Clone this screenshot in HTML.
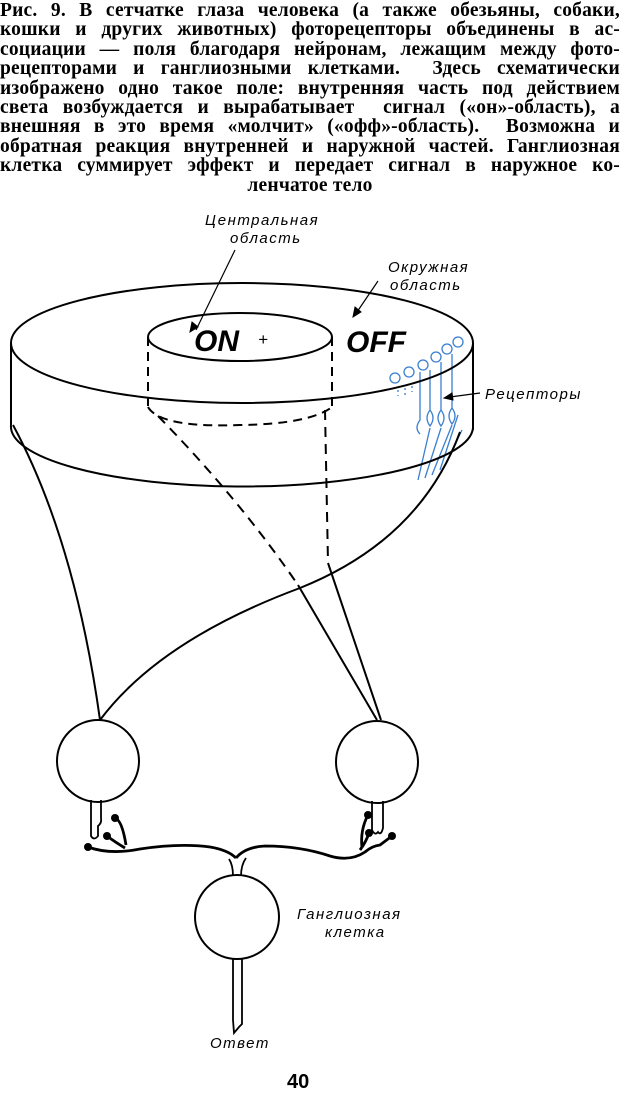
<!DOCTYPE html>
<html><head><meta charset="utf-8"><style>
html,body{margin:0;padding:0;background:#fff;}
body{width:620px;height:1095px;position:relative;overflow:hidden;}
.cap{position:absolute;left:0;top:1px;width:620px;font-family:"Liberation Serif","Noto Serif CJK SC",serif;font-weight:bold;font-size:19.5px;line-height:19.4px;color:#000;letter-spacing:0.2px;}
.cap div{text-align:justify;text-align-last:justify;white-space:nowrap;height:19.4px;}
.cap div.c{text-align:center;text-align-last:center;}
svg{position:absolute;left:0;top:0;}
</style></head><body>
<div class="cap">
<div>Рис. 9. В сетчатке глаза человека (а также обезьяны, собаки,</div>
<div>кошки и других животных) фоторецепторы объединены в ас-</div>
<div>социации — поля благодаря нейронам, лежащим между фото-</div>
<div>рецепторами и ганглиозными клетками.&nbsp; Здесь схематически</div>
<div>изображено одно такое поле: внутренняя часть под действием</div>
<div>света возбуждается и вырабатывает&nbsp; сигнал («он»-область), а</div>
<div>внешняя в это время «молчит» («офф»-область).&nbsp; Возможна и</div>
<div>обратная реакция внутренней и наружной частей. Ганглиозная</div>
<div>клетка суммирует эффект и передает сигнал в наружное ко-</div>
<div class="c">ленчатое тело</div>
</div>
<svg width="620" height="1095" viewBox="0 0 620 1095" fill="none" stroke="#000" stroke-width="2">
<g stroke="#3a7fd0" stroke-width="1.3">
<circle cx="395" cy="378" r="5"/><circle cx="409" cy="372" r="5"/><circle cx="423" cy="365" r="5"/>
<circle cx="436" cy="357" r="5"/><circle cx="447" cy="349" r="5"/><circle cx="458" cy="342" r="5"/>
<path d="M430 370 V410 q-6 8 0 16 q6 -8 0 -16 M441 362 V410 q-6 8 0 16 q6 -8 0 -16 M452 354 V408 q-6 8 0 16 q6-8 0-16 M420 372 V420 q-6 8 0 14"/>
<path d="M430 428 L418 480 M441 428 L425 478 M452 425 L432 475 M458 415 L440 470 M462 430 L445 465"/>
<path d="M398 390 v6 M405 388 v8 M412 386 v6" stroke-dasharray="2 3"/>
</g>
<ellipse cx="242" cy="343" rx="231" ry="60"/>
<path d="M11 343 V425 M473 343 V430"/>
<path d="M11 425 A231 60 0 0 0 473 428"/>
<ellipse cx="240" cy="337" rx="92" ry="24"/>
<path d="M148 337 V407 M332 337 V407" stroke-dasharray="9 6"/>
<path d="M148 407 Q160 428 240 425 Q310 424 332 407" stroke-dasharray="9 6"/>
<path d="M158 416 Q240 500 298 585" stroke-dasharray="10 7"/>
<path d="M325 410 L328 563" stroke-dasharray="10 7"/>
<path d="M298 585 L377 720 M328 563 L381 720"/>
<path d="M13 425 Q75 540 100 720"/>
<path d="M460 432 Q420 540 300 588 Q160 640 100 720"/>
<path d="M235 250 L196 330" stroke-width="1.2"/>
<path d="M190 332 l2 -10 l6 5 z" fill="#000" stroke-width="1"/>
<path d="M378 281 L357 312" stroke-width="1.2"/>
<path d="M353 317 l2 -10 l6 5 z" fill="#000" stroke-width="1"/>
<path d="M480 393 L450 397" stroke-width="1.2"/>
<path d="M444 398 l8 -5 l1 7 z" fill="#000" stroke-width="1"/>
<circle cx="98" cy="761" r="41"/>
<circle cx="377" cy="762" r="41"/>
<path d="M91 800 V836 q3 5 7 0 V826 q4 -3 3 -8 V800" stroke-width="1.8"/>
<path d="M372 801 V830 q3 6 6 2 q3 4 5 -4 V801" stroke-width="1.8"/>
<circle cx="237" cy="917" r="42"/>
<path d="M233 876 Q233 865 229 859 M241 876 Q241 865 246 858" stroke-width="1.8"/>
<path d="M233 959 V1020 l1 13 l5 -6 l3 -3 V959" stroke-width="1.8"/>
<g stroke-width="2.8">
<path d="M88 847 Q110 855 140 849 Q180 843 210 847 Q228 850 236 858"/>
<path d="M236 858 Q245 847 265 846 Q300 846 330 856 Q350 862 365 852 Q372 846 380 845 L392 836"/>
<path d="M107 836 Q115 842 125 848 M115 818 Q122 820 126 845"/>
<path d="M368 815 Q360 830 362 848 M369 833 Q366 842 360 850"/>
</g>
<g fill="#000" stroke="none">
<circle cx="88" cy="847" r="4"/><circle cx="107" cy="836" r="4"/><circle cx="115" cy="818" r="4"/>
<circle cx="368" cy="815" r="4"/><circle cx="369" cy="833" r="4"/><circle cx="392" cy="836" r="4"/>
</g>
<g font-family="'Liberation Sans',sans-serif" font-style="italic" stroke="none" fill="#000" font-size="15" letter-spacing="1.5">
<text x="205" y="225">Центральная</text>
<text x="230" y="243">область</text>
<text x="388" y="272">Окружная</text>
<text x="390" y="290">область</text>
<text x="485" y="399">Рецепторы</text>
<text x="297" y="919">Ганглиозная</text>
<text x="325" y="937">клетка</text>
<text x="210" y="1048">Ответ</text>
</g>
<g font-family="'Liberation Sans',sans-serif" font-style="italic" font-weight="bold" stroke="none" fill="#000">
<text x="194" y="351" font-size="30">ON</text>
<text x="258" y="345" font-size="17" font-weight="normal">+</text>
<text x="346" y="352" font-size="30">OFF</text>
</g>
<text x="287" y="1088" font-family="'Liberation Sans',sans-serif" font-weight="bold" font-size="20" stroke="none" fill="#000">40</text>
</svg>
</body></html>
